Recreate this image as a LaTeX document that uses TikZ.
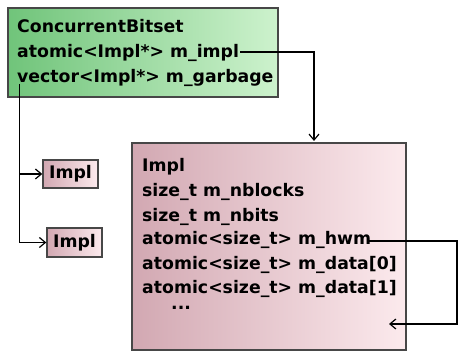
\documentclass[tikz,border=0pt]{standalone}
\usepackage{fontspec}
\setmainfont{DejaVu Sans}
\usetikzlibrary{arrows.meta}
\begin{document}
\begin{tikzpicture}[x=1pt,y=-1pt,
  lblfont/.style={font=\bfseries\fontsize{17.3}{19}\selectfont},
  lbl/.style={lblfont,anchor=base west,inner sep=0pt},
  greenbox/.style={draw=black!72,line width=1.4pt,left color={rgb,255:red,112;green,196;blue,122},right color={rgb,255:red,205;green,242;blue,205}},
  pinkbox/.style={draw=black!72,line width=1.4pt,left color={rgb,255:red,210;green,168;blue,178},right color={rgb,255:red,252;green,234;blue,237}},
  conn/.style={line width=1.2pt,black},
  tip/.style={-{Straight Barb[length=6pt,width=10pt,line width=1.2pt]}}]
\useasboundingbox (0,0) rectangle (459,352);
% green box
\path[greenbox] (8,8) rectangle (278,97);
% big box
\path[pinkbox] (132,143) rectangle (406,350);
% connector end points
\coordinate (ie) at (240,52);
\coordinate (bigtop) at (314,141);
\coordinate (he) at (368,241);
\coordinate (hr) at (457,324);
\coordinate (hend) at (389,324);
\node[lbl] (cb) at (17,33) {ConcurrentBitset};
\node[lbl] (impl) at (17,58) {atomic<Impl*> m\_impl};
\node[lbl] (garb) at (17,82.5) {vector<Impl*> m\_garbage};
\node[lbl] (t0) at (142,171.5) {Impl};
\node[lbl] (t1) at (142,196.5) {size\_t m\_nblocks};
\node[lbl] (t2) at (142,221.5) {size\_t m\_nbits};
\node[lbl] (t3) at (142,245) {atomic<size\_t> m\_hwm};
\node[lbl] (t4) at (142,269.3) {atomic<size\_t> m\_data[0]};
\node[lbl] (t5) at (142,293.3) {atomic<size\_t> m\_data[1]};
\node[lbl] (t6) at (171,310) {...};
% small boxes
\node[pinkbox,lblfont,minimum width=55pt,minimum height=28pt,inner sep=0pt] (s1) at (70.5,174) {Impl};
\node[pinkbox,lblfont,minimum width=55pt,minimum height=29pt,inner sep=0pt] (s2) at (74.5,242.5) {Impl};
\draw[conn,tip] (ie) -- (314,52) -- (bigtop);
\coordinate (gs) at (19.5,84);
\coordinate (gb) at (19.5,174);
\draw[conn,tip] (gs) |- (s2.west);
\draw[conn,tip] (gb) -- (s1.west);
\draw[conn,tip] (he) -| (hr) -- (hend);
\end{tikzpicture}
\end{document}
